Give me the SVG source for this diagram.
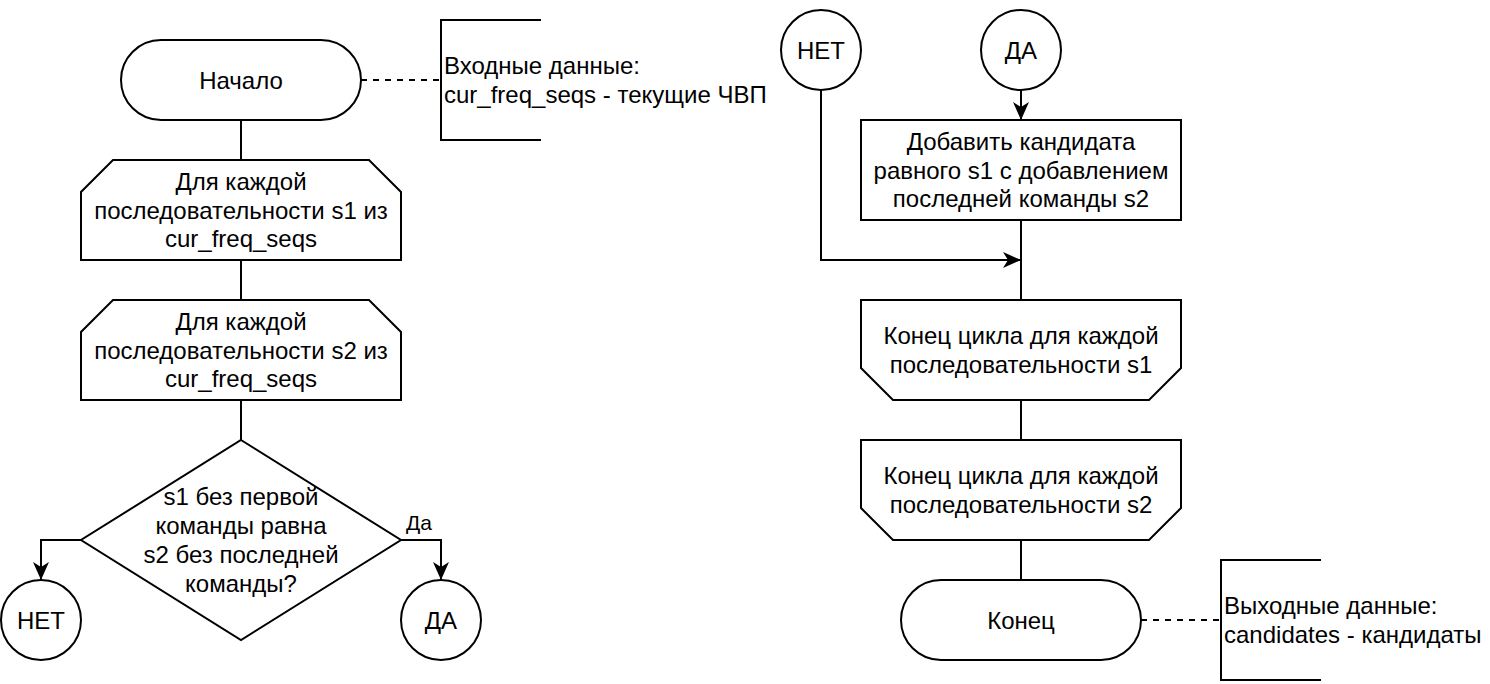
<svg xmlns="http://www.w3.org/2000/svg" width="1490" height="684" viewBox="0 0 1490 684">
<defs>
<style>
.s{fill:#fff;stroke:#000;stroke-width:2}
.l{fill:none;stroke:#000;stroke-width:2}
.d{fill:none;stroke:#000;stroke-width:2;stroke-dasharray:6 6}
text{font-family:"Liberation Sans",Arial,Helvetica,sans-serif;font-size:24px;fill:#000}
.c{text-anchor:middle}
</style>
<marker id="arr" viewBox="0 0 20 18" refX="18" refY="9" markerWidth="20" markerHeight="18" markerUnits="userSpaceOnUse" orient="auto">
<path d="M0,1 L18,9 L0,17 L5,9 Z" fill="#000"/>
</marker>
</defs>
<rect width="1490" height="684" fill="#fff"/>
<g id="connectors">
<line class="l" x1="241" y1="120" x2="241" y2="160"/>
<line class="l" x1="241" y1="260" x2="241" y2="300"/>
<line class="l" x1="241" y1="400" x2="241" y2="440"/>
<polyline class="l" points="81,540 41,540 41,580" marker-end="url(#arr)"/>
<polyline class="l" points="401,540 441,540 441,580" marker-end="url(#arr)"/>
<text x="419" y="530" class="c" style="font-size:21px">Да</text>
<line class="d" x1="361" y1="80" x2="441" y2="80"/>
<line class="l" x1="1021" y1="90" x2="1021" y2="120" marker-end="url(#arr)"/>
<line class="l" x1="1021" y1="220" x2="1021" y2="300"/>
<polyline class="l" points="821,90 821,260 1021,260" marker-end="url(#arr)"/>
<line class="l" x1="1021" y1="400" x2="1021" y2="440"/>
<line class="l" x1="1021" y1="540" x2="1021" y2="580"/>
<line class="d" x1="1141" y1="620" x2="1221" y2="620"/>
</g>
<g id="start">
<rect class="s" x="121" y="40" width="240" height="80" rx="40" ry="40"/>
<text x="241" y="88.5" class="c">Начало</text>
</g>
<g id="input-note">
<polyline class="l" points="541,20 441,20 441,140 541,140"/>
<text x="444" y="74">Входные данные:</text>
<text x="444" y="103">cur_freq_seqs - текущие ЧВП</text>
</g>
<g id="loop1">
<polygon class="s" points="113,160 369,160 401,192 401,260 81,260 81,192"/>
<text x="241" y="189.5" class="c">Для каждой</text>
<text x="241" y="218.5" class="c">последовательности s1 из</text>
<text x="241" y="247.3" class="c">cur_freq_seqs</text>
</g>
<g id="loop2">
<polygon class="s" points="113,300 369,300 401,332 401,400 81,400 81,332"/>
<text x="241" y="329.5" class="c">Для каждой</text>
<text x="241" y="358.5" class="c">последовательности s2 из</text>
<text x="241" y="387.3" class="c">cur_freq_seqs</text>
</g>
<g id="decision">
<polygon class="s" points="241,440 401,540 241,640 81,540"/>
<text x="241" y="505.3" class="c">s1 без первой</text>
<text x="241" y="534.1" class="c">команды равна</text>
<text x="241" y="562.9" class="c">s2 без последней</text>
<text x="241" y="591.7" class="c">команды?</text>
</g>
<g id="no-out">
<circle class="s" cx="41" cy="620" r="40"/>
<text x="41" y="628.5" class="c">НЕТ</text>
</g>
<g id="yes-out">
<circle class="s" cx="441" cy="620" r="40"/>
<text x="441" y="628.5" class="c">ДА</text>
</g>
<g id="no-in">
<circle class="s" cx="821" cy="50" r="40"/>
<text x="821" y="58.5" class="c">НЕТ</text>
</g>
<g id="yes-in">
<circle class="s" cx="1021" cy="50" r="40"/>
<text x="1021" y="58.5" class="c">ДА</text>
</g>
<g id="add-candidate">
<rect class="s" x="861" y="120" width="320" height="100"/>
<text x="1021" y="149.7" class="c">Добавить кандидата</text>
<text x="1021" y="178.5" class="c">равного s1 с добавлением</text>
<text x="1021" y="207.3" class="c">последней команды s2</text>
</g>
<g id="loop1-end">
<polygon class="s" points="861,300 1181,300 1181,368 1149,400 893,400 861,368"/>
<text x="1021" y="344.1" class="c">Конец цикла для каждой</text>
<text x="1021" y="372.9" class="c">последовательности s1</text>
</g>
<g id="loop2-end">
<polygon class="s" points="861,440 1181,440 1181,508 1149,540 893,540 861,508"/>
<text x="1021" y="484.1" class="c">Конец цикла для каждой</text>
<text x="1021" y="512.9" class="c">последовательности s2</text>
</g>
<g id="end">
<rect class="s" x="901" y="580" width="240" height="80" rx="40" ry="40"/>
<text x="1021" y="628.5" class="c">Конец</text>
</g>
<g id="output-note">
<polyline class="l" points="1321,560 1221,560 1221,680 1321,680"/>
<text x="1224" y="614">Выходные данные:</text>
<text x="1224" y="643">candidates - кандидаты</text>
</g>
</svg>
